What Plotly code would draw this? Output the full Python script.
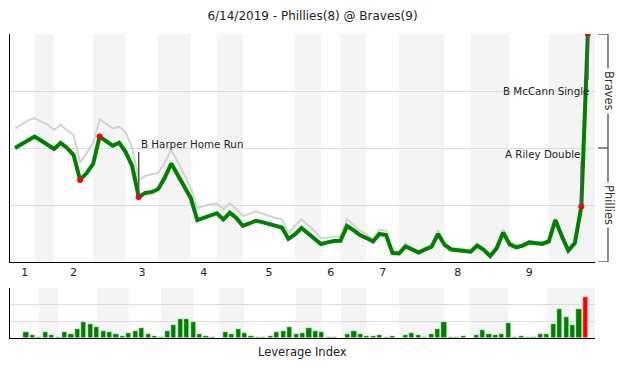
import plotly.graph_objects as go

# ---------------- data ----------------
title_text = "6/14/2019 - Phillies(8) @ Braves(9)"

# Braves win probability (%) after each plate appearance (index 0 = game start)
win_prob_braves = [
    50.0, 51.8, 53.5, 55.0, 53.3, 51.5, 49.6, 52.2, 50.0, 46.9,
    36.0, 39.0, 43.0, 55.0, 53.1, 51.0, 52.3, 48.2, 42.1, 28.5,
    30.3, 30.7, 32.0, 36.9, 43.2, 38.2, 33.3, 28.1, 18.4, 19.3,
    20.2, 21.4, 18.7, 21.6, 19.3, 15.8, 16.9, 18.1, 17.5, 16.7,
    16.0, 15.1, 10.1, 12.1, 14.9, 12.7, 10.5, 7.9, 8.6, 9.2,
    9.3, 15.8, 14.0, 11.8, 10.5, 9.0, 12.3, 11.8, 3.9, 3.7,
    6.8, 5.3, 4.1, 5.5, 6.7, 12.3, 7.5, 5.5, 5.3, 5.0,
    4.5, 7.2, 5.3, 2.6, 6.0, 12.9, 7.7, 6.4, 7.2, 8.6,
    8.1, 7.9, 9.0, 18.4, 11.4, 5.0, 8.3, 24.3, 100.0,
]

# secondary (grey) win expectancy series
win_prob_alt = [
    58.6, 60.5, 62.1, 63.0, 61.8, 60.3, 57.9, 60.1, 57.9, 55.7,
    43.6, 47.8, 52.2, 62.6, 60.5, 58.6, 59.3, 57.0, 50.0, 36.0,
    37.7, 38.6, 39.2, 43.4, 49.1, 43.9, 38.2, 32.5, 23.6, 24.6,
    25.2, 25.7, 23.1, 25.7, 23.2, 20.2, 21.1, 22.1, 21.3, 20.2,
    19.3, 18.7, 12.6, 15.8, 18.7, 16.2, 13.6, 10.3, 10.7, 11.2,
    11.4, 18.9, 16.2, 13.7, 12.1, 10.1, 14.3, 13.7, 4.6, 4.6,
    8.3, 6.1, 5.0, 6.4, 7.7, 14.0, 8.3, 6.1, 5.9, 5.7,
    5.0, 7.9, 5.9, 3.3, 6.8, 14.3, 8.3, 7.0, 7.9, 9.2,
    8.8, 8.6, 9.6, 19.2, 12.1, 5.5, 8.8, 24.8, 100.0,
]

# leverage index of each plate appearance (1..88)
leverage = [
    0.35, 0.20, 0.08, 0.35, 0.20, 0.08, 0.35, 0.24, 0.55, 0.94,
    0.82, 0.67, 0.43, 0.35, 0.24, 0.12, 0.30, 0.43, 0.59, 0.24,
    0.12, 0.06, 0.41, 0.76, 1.14, 1.14, 0.94, 0.24, 0.14, 0.08,
    0.02, 0.35, 0.24, 0.55, 0.30, 0.14, 0.08, 0.04, 0.14, 0.35,
    0.41, 0.67, 0.25, 0.30, 0.62, 0.45, 0.38, 0.04, 0.04, 0.00,
    0.24, 0.45, 0.26, 0.10, 0.10, 0.20, 0.05, 0.10, 0.00, 0.17,
    0.29, 0.17, 0.06, 0.23, 0.53, 0.95, 0.04, 0.08, 0.12, 0.00,
    0.20, 0.50, 0.26, 0.16, 0.26, 0.92, 0.04, 0.14, 0.08, 0.04,
    0.22, 0.22, 0.86, 1.72, 1.25, 0.76, 1.72, 2.48,
]

# plate-appearance index at which each half inning ends
half_inning_ends = [3, 6, 12, 17, 22, 27, 31, 35, 43, 47, 50, 54, 59, 66, 70, 76, 82, 88]
inning_labels = ["1", "2", "3", "4", "5", "6", "7", "8", "9"]

key_play_idx = [10, 13, 19, 87, 88]
event_idx = [19, 87, 88]
event_text = ["B Harper Home Run", "A Riley Double", "B McCann Single"]
event_text_y = [51.75, 47.4, 75.1]
event_conn_y = [48.2, 44.0, 79.8]

team_labels = ["Braves", "Phillies"]

# ---------------- figure ----------------
FONT = "DejaVu Sans"
main_range = [-0.77, 89.1]
lev_range = [-1.49, 89.49]

fig = go.Figure()

n = len(win_prob_braves)
xs = list(range(n))

fig.add_trace(go.Scatter(x=xs, y=win_prob_alt, mode="lines",
                         line=dict(color="#d2d2d2", width=2),
                         xaxis="x", yaxis="y", hoverinfo="skip"))
fig.add_trace(go.Scatter(x=xs, y=win_prob_braves, mode="lines",
                         line=dict(color="#008000", width=4),
                         xaxis="x", yaxis="y"))

bar_x = list(range(1, len(leverage) + 1))
bar_colors = ["#ff0000" if i == len(leverage) - 1 else "#008000" for i in range(len(leverage))]
fig.add_trace(go.Bar(x=bar_x, y=leverage, marker=dict(color=bar_colors, line=dict(color="white", width=0.5)),
                     width=0.8, xaxis="x2", yaxis="y2"))

shapes = []
# bottom-half-inning shaded bands
for j in range(0, len(half_inning_ends), 2):
    x0 = half_inning_ends[j]
    x1 = half_inning_ends[j + 1]
    last = (j + 2 >= len(half_inning_ends))
    shapes.append(dict(type="rect", xref="x", yref="y", x0=x0, x1=(main_range[1] if last else x1),
                       y0=0, y1=100, fillcolor="#f4f4f4", line=dict(width=0), layer="below"))
    shapes.append(dict(type="rect", xref="x2", yref="y2", x0=x0, x1=(lev_range[1] if last else x1),
                       y0=0, y1=3, fillcolor="#f4f4f4", line=dict(width=0), layer="below"))

# inning label positions: middle of each top half
tick_pos = []
for j in range(9):
    start = 0 if j == 0 else half_inning_ends[2 * j - 1]
    end = half_inning_ends[2 * j]
    tick_pos.append((start + end) / 2)

# event connectors
for i, cy in zip(event_idx, event_conn_y):
    shapes.append(dict(type="line", xref="x", yref="y", x0=i, x1=i,
                       y0=win_prob_braves[i], y1=cy, line=dict(color="#555555", width=1.5)))

# right-side team bracket
bx0, bx1 = 1.0051, 1.0222
for yv in [100, 50, 0]:
    shapes.append(dict(type="line", xref="paper", yref="y", x0=bx0, x1=bx1, y0=yv, y1=yv,
                       line=dict(color="#666666", width=1.5)))
shapes.append(dict(type="line", xref="paper", yref="y", x0=bx1, x1=bx1, y0=0, y1=100,
                   line=dict(color="#666666", width=1.5)))

fig.add_trace(go.Scatter(x=key_play_idx, y=[win_prob_braves[i] for i in key_play_idx], mode="markers",
                         marker=dict(color="#ff0000", size=6), xaxis="x", yaxis="y"))

annotations = []
for i, t, ty in zip(event_idx, event_text, event_text_y):
    left = (i == event_idx[0])
    annotations.append(dict(x=i, y=ty, xref="x", yref="y", text=t, showarrow=False,
                            xanchor="left" if left else "right", yanchor="middle",
                            xshift=0 if left else (3 if i == event_idx[-1] else 1),
                            font=dict(family=FONT, size=10.3, color="#222222")))
for t, yv in zip(team_labels, [75, 25]):
    annotations.append(dict(x=bx1, y=yv, xref="paper", yref="y", text=t, showarrow=False,
                            textangle=90, bgcolor="white", borderpad=2,
                            xanchor="center", yanchor="middle", xshift=1,
                            font=dict(family=FONT, size=11.5, color="#333333")))
annotations.append(dict(x=0.5, y=(338 - 352) / 304, xref="paper", yref="paper", text="Leverage Index",
                        showarrow=False, yanchor="middle",
                        font=dict(family=FONT, size=11.5, color="#222222")))

fig.update_layout(
    width=625, height=377,
    margin=dict(l=10, r=30, t=34, b=39),
    paper_bgcolor="white", plot_bgcolor="white",
    showlegend=False, bargap=0, hovermode=False,
    title=dict(text=title_text, x=0.5, xref="container", xanchor="center",
               y=1 - 16 / 377, yref="container", yanchor="middle",
               font=dict(family=FONT, size=12, color="#222222")),
    xaxis=dict(domain=[0, 1], anchor="y", range=main_range, tickvals=tick_pos, ticktext=inning_labels,
               showgrid=False, zeroline=False, showline=True, linecolor="black", linewidth=1,
               ticks="", tickfont=dict(family=FONT, size=11, color="#222222")),
    yaxis=dict(domain=[0.25, 1], anchor="x", range=[0, 100], tickvals=[0, 25, 50, 75, 100],
               showgrid=True, gridcolor="#dcdcdc", gridwidth=1, showticklabels=False,
               zeroline=False, showline=True, linecolor="black", linewidth=1, ticks=""),
    xaxis2=dict(domain=[0, 1], anchor="y2", range=lev_range, showticklabels=False, showgrid=False,
                zeroline=False, showline=True, linecolor="black", linewidth=1, ticks=""),
    yaxis2=dict(domain=[0, 0.1645], anchor="x2", range=[0, 3], dtick=1, showgrid=True,
                gridcolor="#dcdcdc", showticklabels=False, zeroline=False, showline=True,
                linecolor="black", linewidth=1, ticks=""),
    shapes=shapes, annotations=annotations,
)

fig.write_html("out.html", config={"displayModeBar": False},
               post_script="document.body.style.margin='0px';")
